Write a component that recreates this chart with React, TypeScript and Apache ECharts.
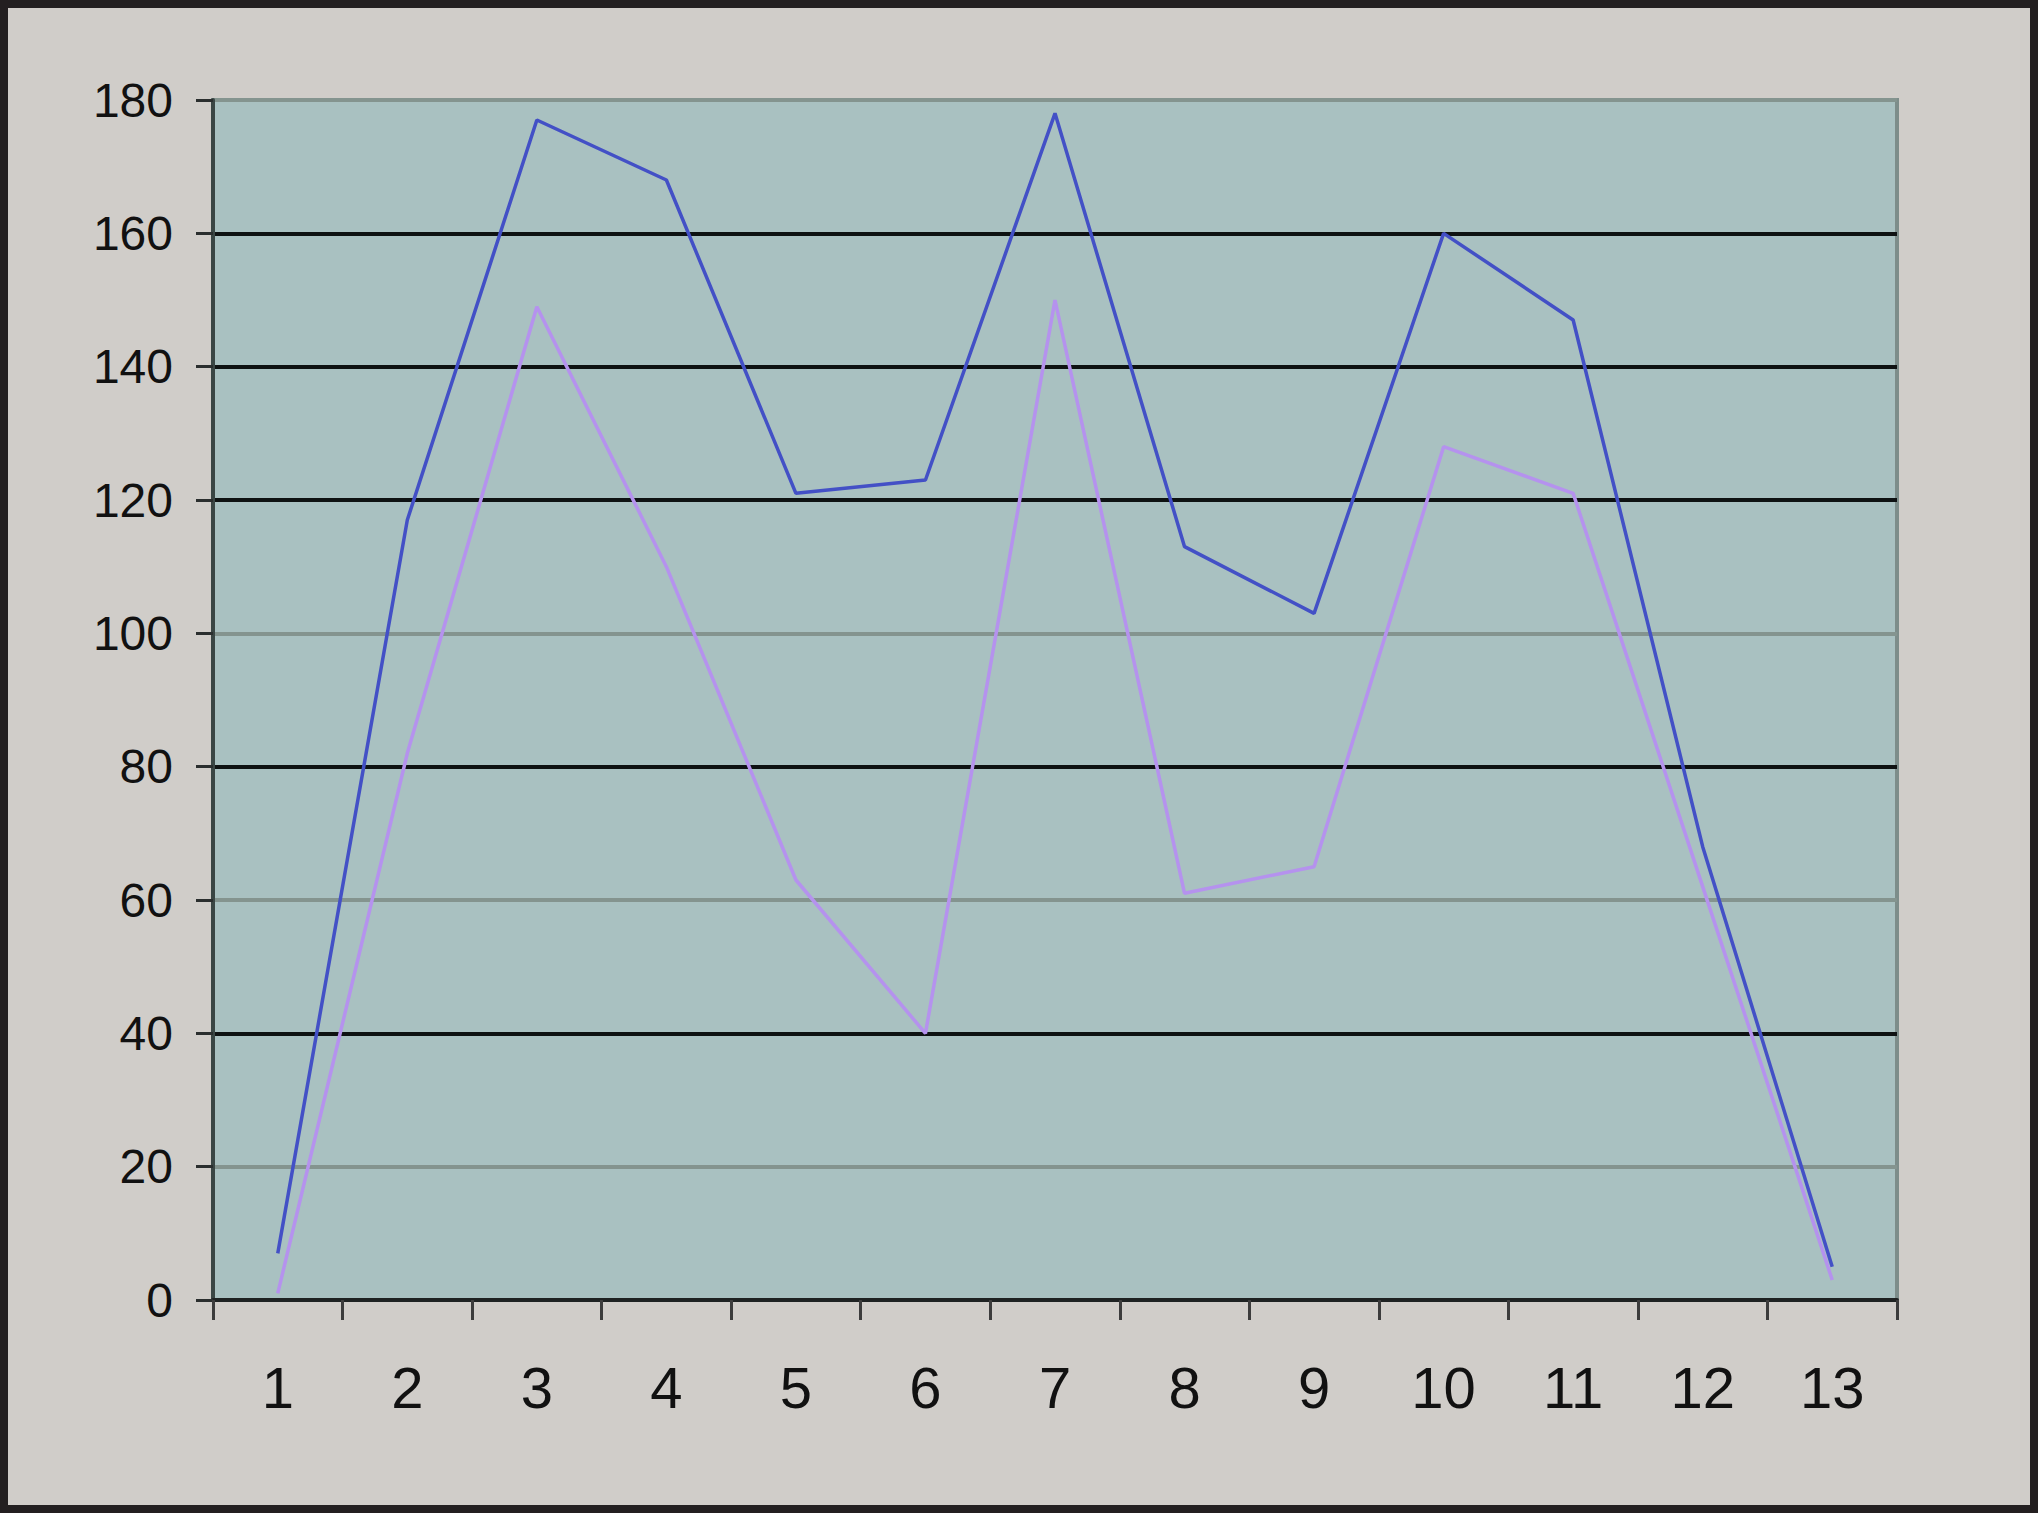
import React, { useEffect, useRef } from "react";
import * as echarts from "echarts";

const categories = ["1", "2", "3", "4", "5", "6", "7", "8", "9", "10", "11", "12", "13"];
const blueValues = [7, 117, 177, 168, 121, 123, 178, 113, 103, 160, 147, 68, 5];
const purpleValues = [1, 82, 149, 110, 63, 40, 150, 61, 65, 128, 121, 62, 3];

// gridline colours from 0 to 180: some lines are black, some grey
const BLACK = "#0e1212";
const GREY = "#84948f";
const gridColors = [BLACK, GREY, BLACK, GREY, BLACK, GREY, BLACK, BLACK, BLACK, GREY];

const App: React.FC = () => {
  const chartRef = useRef<HTMLDivElement | null>(null);

  useEffect(() => {
    const chartDom = chartRef.current;
    if (!chartDom) return;
    const myChart = echarts.init(chartDom, undefined, { renderer: "svg" });

    const option = {
      animation: false,
      backgroundColor: "#d0cdc9",
      grid: {
        left: 205,
        right: 133,
        top: 92,
        bottom: 205,
        show: true,
        backgroundColor: "#a9c1c1",
        borderColor: "#7d8d8a",
        borderWidth: 4,
      },
      xAxis: {
        type: "category",
        data: categories,
        boundaryGap: true,
        axisLine: { show: true, lineStyle: { color: "#1e2222", width: 4 } },
        axisTick: {
          show: true,
          inside: false,
          length: 20,
          lineStyle: { color: "#3c3c3c", width: 3 },
        },
        axisLabel: {
          margin: 58,
          fontSize: 58,
          color: "#111",
          fontFamily: "Liberation Sans, Arial, sans-serif",
        },
        splitLine: { show: false },
      },
      yAxis: {
        type: "value",
        min: 0,
        max: 180,
        interval: 20,
        axisLine: { show: true, lineStyle: { color: "#3a4644", width: 4 } },
        axisTick: {
          show: true,
          inside: false,
          length: 17,
          lineStyle: { color: "#2a2e2e", width: 3 },
        },
        axisLabel: {
          margin: 40,
          fontSize: 48,
          color: "#111",
          fontFamily: "Liberation Sans, Arial, sans-serif",
        },
        splitLine: {
          show: true,
          lineStyle: { color: gridColors, width: 4 },
        },
      },
      series: [
        {
          name: "Series 1",
          type: "line",
          data: blueValues,
          symbol: "none",
          lineStyle: { color: "#4350c6", width: 3.5 },
          itemStyle: { color: "#4350c6" },
        },
        {
          name: "Series 2",
          type: "line",
          data: purpleValues,
          symbol: "none",
          lineStyle: { color: "#b592ee", width: 3.5 },
          itemStyle: { color: "#b592ee" },
        },
      ],
    };

    myChart.setOption(option);

    return () => {
      myChart.dispose();
    };
  }, []);

  return (
    <div
      style={{
        position: "absolute",
        top: 0,
        left: 0,
        width: 2038,
        height: 1513,
        boxSizing: "border-box",
        border: "8px solid #231f20",
        background: "#d0cdc9",
      }}
    >
      <div ref={chartRef} style={{ width: "100%", height: "100%" }} />
    </div>
  );
};

export default App;
